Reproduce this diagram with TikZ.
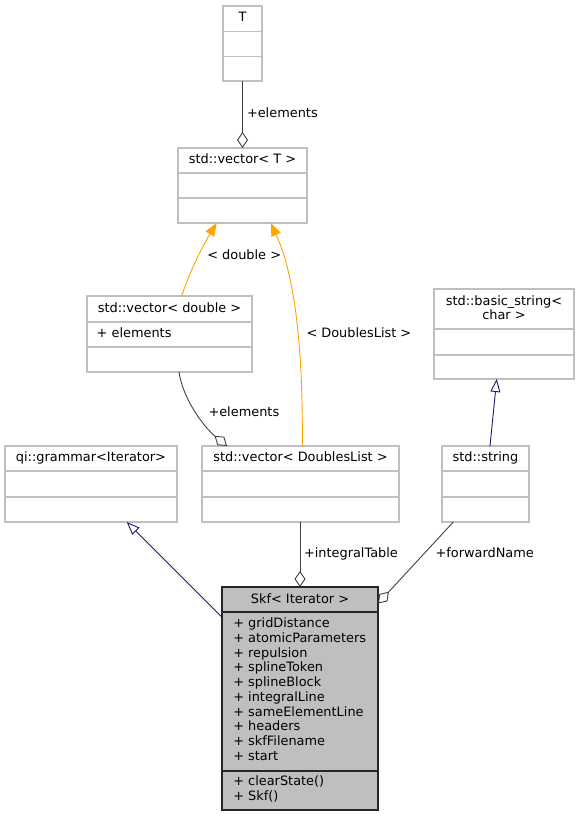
\documentclass[tikz,border=0pt]{standalone}
\usepackage{fontspec}
\setmainfont{DejaVu Sans}
\usetikzlibrary{arrows.meta,calc}
\definecolor{clsgray}{HTML}{BFBFBF}
\definecolor{edgegray}{HTML}{404040}
\definecolor{navyline}{HTML}{191970}
\definecolor{orangeline}{HTML}{FFA500}
\definecolor{skffill}{HTML}{BFBFBF}
\newcommand{\ubox}[8]{%
  \node[#8, minimum width={#4-#2}, minimum height={#5-#3}] (#1) at ({(#2+#4)/2},{(#3+#5)/2}) {};
  \draw[#8] (#2,#6) -- (#4,#6) (#2,#7) -- (#4,#7);
}
\begin{document}
\begin{tikzpicture}[x=1pt,y=-1pt,
  font=\fontsize{12.9}{14.7}\selectfont,
  cls/.style={draw=clsgray, line width=1.3pt, inner sep=0pt, outer sep=0pt},
  skfcls/.style={draw=black!85, fill=skffill, line width=1.2pt, inner sep=0pt, outer sep=0pt},
  txt/.style={inner sep=0pt, outer sep=0pt, anchor=base, text=black},
  ltxt/.style={inner sep=0pt, outer sep=0pt, anchor=base west, text=black},
  agg/.style={draw=edgegray, line width=0.9pt, {Diamond[open,length=16pt,width=11pt,line width=0.9pt]}-},
  inh/.style={draw=navyline, line width=0.9pt, -{Triangle[open,length=13pt,width=10pt,line width=0.9pt]}},
  tmpl/.style={draw=orangeline, line width=0.9pt, -{Triangle[length=13pt,width=10pt]}}
]
\useasboundingbox (0,0) rectangle (579,816);

% class boxes
\ubox{T}{223}{6}{262}{81}{31.5}{56.5}{cls}
\ubox{vecT}{178}{148}{307}{223}{173}{198}{cls}
\ubox{vecD}{87}{296}{252}{372}{322}{347}{cls}
\ubox{qi}{5}{446}{177}{522}{471}{497}{cls}
\ubox{vecDL}{202}{446}{399}{522}{471}{497}{cls}
\ubox{bstr}{434}{289}{574}{379}{329}{355}{cls}
\ubox{str}{442}{446}{529}{522}{471}{497}{cls}
\ubox{skf}{222}{587}{378}{810}{612}{771}{skfcls}

% titles
\node[txt] (tT) at (242.5,21.7) {T};
\node[txt] (tvecT) at (242.5,163.5) {std::vector< T >};
\node[txt] (tvecD) at (169.5,312.5) {std::vector< double >};
\node[ltxt] (avecD) at (96.7,337.5) {+ elements};
\node[txt] (tqi) at (91,461.7) {qi::grammar<Iterator>};
\node[txt] (tvecDL) at (300.5,461.7) {std::vector< DoublesList >};
\node[txt] (tbstr1) at (504,305) {std::basic\_string<};
\node[txt] (tbstr2) at (504,319.5) {char >};
\node[txt] (tstr) at (485.5,461.7) {std::string};
\node[txt] (tskf) at (300,603) {Skf< Iterator >};

% Skf attributes and methods
\foreach \nm [count=\i from 0] in {gridDistance,atomicParameters,repulsion,splineToken,splineBlock,integralLine,sameElementLine,headers,skfFilename,start}
  \node[ltxt] (skfa\i) at (233.3,{627.8+14.7*\i}) {+ \nm};
\node[ltxt] (skfm0) at (233.3,785.7) {+ clearState()};
\node[ltxt] (skfm1) at (233.3,800.4) {+ Skf()};

% connectors
\draw[agg] (vecT.north) -- (T.south);
\node[ltxt] (l1) at (247,117.5) {+elements};

\draw[tmpl] ([xshift=94.7pt]vecD.north west) .. controls (190,270) and (205,242) .. ([xshift=38.7pt]vecT.south west);
\node[ltxt] (l2) at (207.3,259) {< double >};

\draw[tmpl] ([xshift=100.3pt]vecDL.north west) .. controls (303,360) and (297,280) .. ([xshift=92.7pt]vecT.south west);
\node[ltxt] (l3) at (306.5,337.5) {< DoublesList >};

\draw[agg] ([xshift=25pt]vecDL.north west) .. controls (205,428) and (183,400) .. ([xshift=92pt]vecD.south west);
\node[ltxt] (l4) at (208.5,416.5) {+elements};

\draw[inh] ([xshift=48pt]str.north west) -- ([xshift=62.7pt]bstr.south west);

\draw[inh] ([yshift=-30.3pt]skf.north west) -- ([xshift=121.7pt]qi.south west);

\draw[agg] (skf.north) -- (skf.north |- vecDL.south);
\node[ltxt] (l5) at (304,557.3) {+integralTable};

\draw[agg] ([yshift=-16.5pt]skf.north east) -- ([xshift=11.3pt]str.south west);
\node[ltxt] (l6) at (435.5,557.3) {+forwardName};
\end{tikzpicture}
\end{document}
